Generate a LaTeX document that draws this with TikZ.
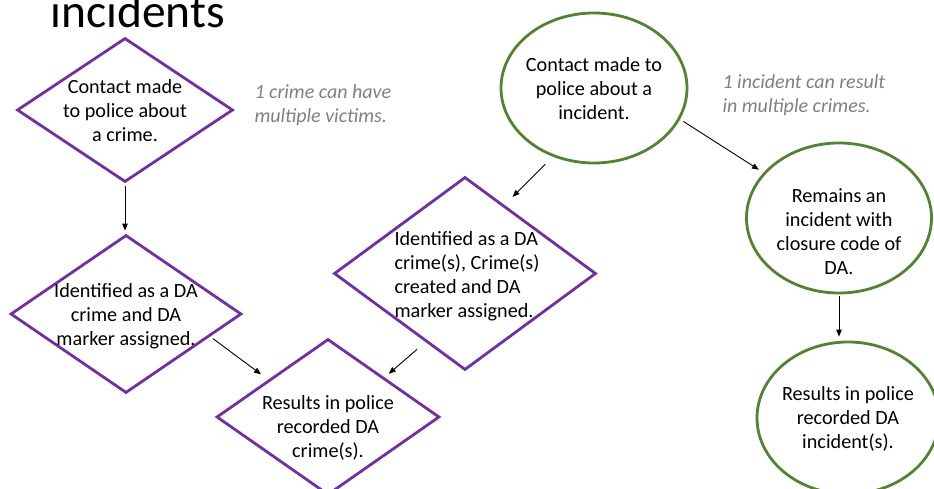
\documentclass[tikz,border=0pt]{standalone}
\usepackage{fontspec}
\setmainfont{Carlito}
\usetikzlibrary{shapes.geometric,arrows.meta}
\definecolor{dpurple}{RGB}{112,48,160}
\definecolor{dgreen}{RGB}{84,130,53}
\definecolor{notegray}{RGB}{128,128,128}
\newcommand{\ctxt}[2][0pt]{\makebox[0pt]{\raisebox{\dimexpr-8pt-#1\relax}[0pt][0pt]{\begin{tabular}{@{}c@{}}#2\end{tabular}}}}
\newcommand{\ltxt}[2][0pt]{\makebox[0pt]{\raisebox{\dimexpr-8pt-#1\relax}[0pt][0pt]{\begin{tabular}{@{}l@{}}#2\end{tabular}}}}
\tikzset{
  txt/.style={font=\fontsize{20.2}{24}\selectfont},
  dia/.style={shape=diamond, draw=dpurple, line width=2.8pt, inner sep=0pt, txt},
  ell/.style={shape=ellipse, draw=dgreen, line width=2.8pt, inner sep=0pt, txt},
  note/.style={anchor=west, align=left, text=notegray, font=\fontsize{20}{24}\selectfont\itshape},
  arr/.style={draw=black, line width=0.9pt, -{Triangle[length=7pt,width=5.5pt]}}
}
\begin{document}
\begin{tikzpicture}[x=1pt,y=-1pt]
\useasboundingbox (0,0) rectangle (934,489);
\clip (0,0) rectangle (934,489);
\node[anchor=base west, font=\fontsize{47.5}{50}\selectfont] (title) at (47,28) {incidents};
% diamonds
\node[dia, minimum width=216pt, minimum height=144pt] (d1) at (125,110) {\ctxt{Contact made\\to police about\\a crime.}};
\node[dia, minimum width=231pt, minimum height=158pt] (d2) at (126,314) {\ctxt{Identified as a DA\\crime and DA\\marker assigned.}};
\node[dia, minimum width=223pt, minimum height=156pt] (d3) at (328,417) {\ctxt[9pt]{Results in police\\recorded DA\\crime(s).}};
\node[dia, minimum width=262pt, minimum height=193pt] (d4) at (465,273.5) {\hspace{4pt}\ltxt{Identified as a DA\\crime(s), Crime(s)\\created and DA\\marker assigned.}};
% ellipses
\node[ell, minimum width=186pt, minimum height=150pt] (e1) at (594,88) {\ctxt{Contact made to\\police about a\\incident.}};
\node[ell, minimum width=185pt, minimum height=150pt] (e2) at (839,218) {\ctxt[12.5pt]{Remains an\\incident with\\closure code of\\DA.}};
\node[ell, minimum width=182pt, minimum height=152pt] (e3) at (848,418) {\ctxt[-1pt]{Results in police\\recorded DA\\incident(s).}};
% notes
\node[note] (n1) at (251,105.5) {1 crime can have\\multiple victims.};
\node[note] (n2) at (719,95) {1 incident can result\\in multiple crimes.};
% connectors
\draw[arr, shorten <=3pt, shorten >=3pt] (d1.south) -- (d1.south |- d2.north);
\draw[arr, shorten <=3.5pt, shorten >=9pt] (d2.-15.6) -- (d3.148);
\draw[arr, shorten <=11pt, shorten >=5.5pt] (d4.-120.3) -- (d3.35.7);
\draw[arr, shorten <=10.6pt, shorten >=11.3pt] (e1.-121) -- (d4.60.2);
\draw[arr, shorten <=3.9pt, shorten >=5.4pt] (e1.-20) -- (e2.149.4);
\draw[arr, shorten <=2pt, shorten >=4pt] (e2.south) -- (e2.south |- e3.north);
\end{tikzpicture}
\end{document}
